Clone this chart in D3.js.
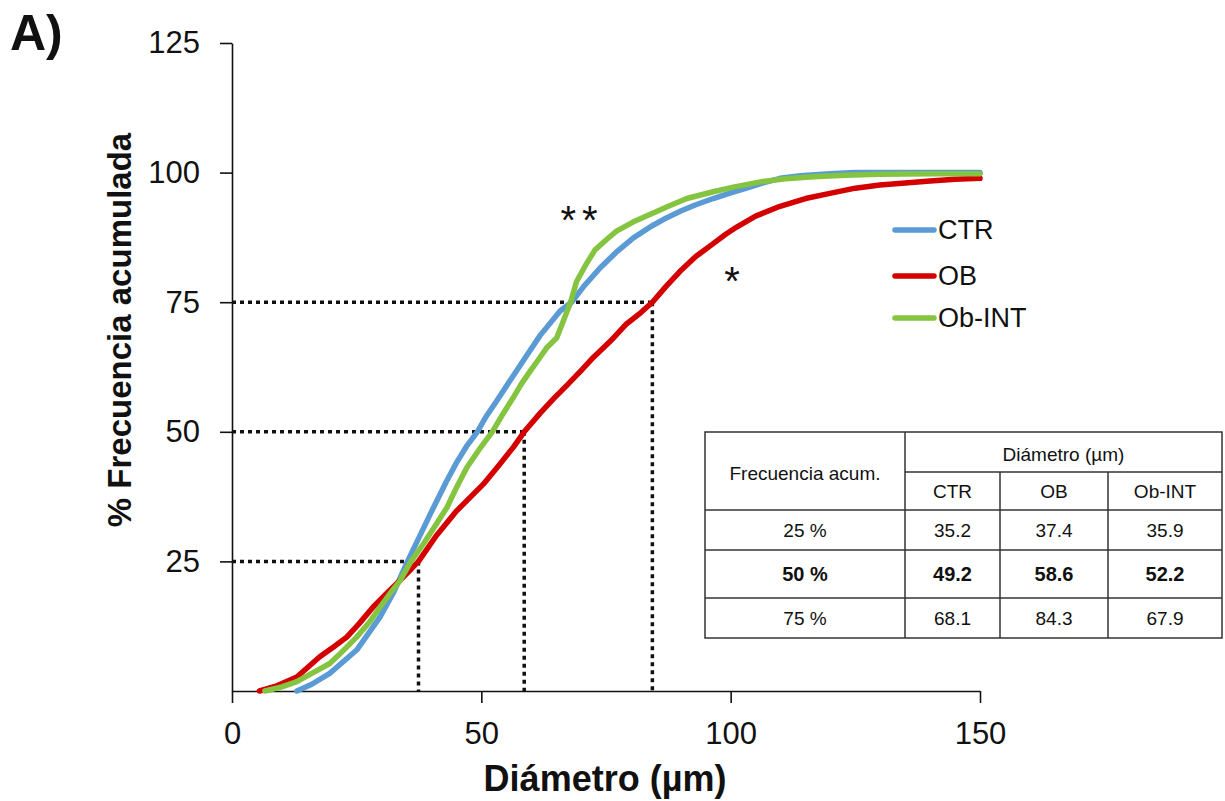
<!DOCTYPE html>
<html>
<head>
<meta charset="utf-8">
<script src="https://cdn.jsdelivr.net/npm/d3@7"></script>
<style>
  html, body { margin: 0; padding: 0; background: #fff; }
  svg { display: block; }
  text { font-family: "Liberation Sans", Arial, sans-serif; fill: #111; }
</style>
</head>
<body>
<svg id="chart" width="1225" height="801"></svg>
<script>
// Cumulative size distribution (diameter in µm vs. cumulative %)
const diamCTR = [13, 16, 19.6, 25, 29.7, 32.5, 35.2, 38, 40, 43, 45, 47.1, 49.2, 51, 53.1, 55.5, 58.4, 61.8, 65.8, 68.1, 70.5, 73.8, 77, 80.5, 84, 87.2, 90, 93, 96.5, 100, 103.2, 106.5, 109.9, 114, 119.9, 125, 130, 140, 150];
const freqCTR = [0, 1.3, 3.4, 7.9, 14.3, 19.2, 25, 30.6, 34.6, 40.4, 44, 47.3, 50, 53, 56, 59.5, 63.7, 68.6, 73.3, 75, 78, 81.6, 84.6, 87.4, 89.6, 91.3, 92.6, 93.8, 95, 96.1, 97, 98, 98.9, 99.4, 99.8, 100, 100, 100, 100];

const diamOB = [5.5, 9, 13, 17.6, 20.5, 23, 25.5, 28.3, 31, 33, 35.2, 37.4, 41, 45.1, 50.4, 53.5, 56.4, 58.6, 61.8, 64.5, 67.1, 70, 72.5, 76, 79.1, 82, 84.3, 87, 89.8, 93, 96.5, 99, 101.2, 105, 109.9, 115, 119.9, 125, 129.9, 135, 140, 145, 150];
const freqOB = [0, 1, 2.7, 6.6, 8.6, 10.4, 13, 16.2, 18.8, 20.7, 22.8, 25, 30, 34.8, 39.9, 43.5, 47, 50, 53.6, 56.4, 58.9, 61.8, 64.4, 67.6, 70.8, 73, 75, 78, 80.9, 83.8, 86.3, 88.1, 89.5, 91.6, 93.5, 95, 96, 97, 97.6, 98, 98.4, 98.7, 98.9];

const diamINT = [6.6, 10, 13, 16, 19.6, 22, 25, 27.5, 29.7, 32, 33.7, 35.9, 38.4, 40.5, 43.1, 45, 47.1, 49.5, 52.2, 54.3, 56.4, 58, 59.8, 61.5, 63.1, 65.1, 66.5, 67.9, 69.1, 71, 72.8, 75, 77.1, 80.5, 83.8, 87.5, 91.2, 96.5, 101, 106.5, 111, 116.6, 123, 129.9, 140, 150];
const freqINT = [0, 0.8, 1.8, 3.4, 5.3, 7.5, 10.4, 13.2, 16.2, 19.2, 21.3, 25, 28.4, 31.5, 35.4, 39.2, 43.1, 46.5, 50, 53.4, 56.6, 59.2, 61.7, 64, 66.2, 68.1, 71.5, 75, 79, 82.3, 85.1, 87, 88.7, 90.5, 91.9, 93.5, 95, 96.3, 97.3, 98.3, 98.8, 99.2, 99.5, 99.7, 99.8, 99.8];

const seriesNames = ["CTR", "OB", "Ob-INT"];
const seriesColors = ["#5b9bd5", "#d40000", "#84c441"];

const xTicks = [0, 50, 100, 150];
const yTicks = [25, 50, 75, 100, 125];

// Summary table: diameter at each cumulative frequency
const tableRows = ["25 %", "50 %", "75 %"];
const percentiles = [25, 50, 75];
const tabCTR = [35.2, 49.2, 68.1];
const tabOB = [37.4, 58.6, 84.3];
const tabINT = [35.9, 52.2, 67.9];

const svg = d3.select("#chart");

const x = d3.scaleLinear().domain([0, 150]).range([232, 980]);
const y = d3.scaleLinear().domain([0, 125]).range([691, 43]);

// Panel letter
svg.append("text").attr("x", 10).attr("y", 50)
  .attr("font-size", 50).attr("font-weight", "bold").text("A)");

// Axes
const yAxis = d3.axisLeft(y).tickValues(yTicks).tickSize(12).tickSizeOuter(0).tickPadding(20);
const xAxis = d3.axisBottom(x).tickValues(xTicks).tickSize(12).tickSizeOuter(0).tickPadding(19);

const gy = svg.append("g").attr("transform", `translate(${x(0)},0)`).call(yAxis);
const gx = svg.append("g").attr("transform", `translate(0,${y(0)})`).call(xAxis);
[gy, gx].forEach(g => {
  g.select(".domain").attr("stroke", "#111").attr("stroke-width", 1.6);
  g.selectAll(".tick line").attr("stroke", "#111").attr("stroke-width", 1.6);
  g.selectAll(".tick text").attr("font-size", 31).attr("fill", "#111")
    .attr("font-family", "Liberation Sans, Arial, sans-serif");
});

// Axis titles
svg.append("text")
  .attr("transform", `translate(131,330) rotate(-90)`)
  .attr("text-anchor", "middle").attr("font-size", 33).attr("font-weight", "bold")
  .text("% Frecuencia acumulada");
svg.append("text").attr("x", 605).attr("y", 791)
  .attr("text-anchor", "middle").attr("font-size", 36).attr("font-weight", "bold")
  .text("Diámetro (µm)");

// Dotted guides at the OB percentiles
const guides = svg.append("g");
percentiles.forEach((p, i) => {
  const d = tabOB[i];
  guides.append("line")
    .attr("x1", x(0)).attr("x2", x(d)).attr("y1", y(p)).attr("y2", y(p));
  guides.append("line")
    .attr("x1", x(d)).attr("x2", x(d)).attr("y1", y(p)).attr("y2", y(0));
});
guides.selectAll("line").attr("stroke", "#111").attr("stroke-width", 3.5)
  .attr("stroke-dasharray", "4,4");

// Curves
const series = [
  d3.zip(diamCTR, freqCTR),
  d3.zip(diamOB, freqOB),
  d3.zip(diamINT, freqINT)
];
const line = d3.line().x(d => x(d[0])).y(d => y(d[1]));
series.forEach((s, i) => {
  svg.append("path").datum(s)
    .attr("d", line)
    .attr("fill", "none")
    .attr("stroke", seriesColors[i])
    .attr("stroke-width", 5.5)
    .attr("stroke-linejoin", "round")
    .attr("stroke-linecap", "round");
});

// Significance marks
svg.append("text").attr("x", 582).attr("y", 234)
  .attr("text-anchor", "middle").attr("font-size", 40).attr("letter-spacing", 6)
  .text("**");
svg.append("text").attr("x", 732).attr("y", 295)
  .attr("text-anchor", "middle").attr("font-size", 40)
  .text("*");

// Legend
const legendY = [230, 276, 318];
const legend = svg.append("g");
seriesNames.forEach((name, i) => {
  legend.append("line")
    .attr("x1", 895).attr("x2", 934).attr("y1", legendY[i]).attr("y2", legendY[i])
    .attr("stroke", seriesColors[i]).attr("stroke-width", 5.5).attr("stroke-linecap", "round");
  legend.append("text").attr("x", 938).attr("y", legendY[i]).attr("dy", "0.35em")
    .attr("font-size", 27).text(name);
});

// Summary table
const colX = [705, 905, 1000, 1108, 1222];
const rowY = [432, 472, 510, 550, 598, 638];
const tbl = svg.append("g");
tbl.append("rect").attr("x", colX[0]).attr("y", rowY[0])
  .attr("width", colX[4] - colX[0]).attr("height", rowY[5] - rowY[0])
  .attr("fill", "#fff").attr("stroke", "#333").attr("stroke-width", 1.5);
const hl = (x1, x2, yy) => tbl.append("line").attr("x1", x1).attr("x2", x2).attr("y1", yy).attr("y2", yy);
const vl = (xx, y1, y2) => tbl.append("line").attr("x1", xx).attr("x2", xx).attr("y1", y1).attr("y2", y2);
hl(colX[1], colX[4], rowY[1]);
[2, 3, 4].forEach(r => hl(colX[0], colX[4], rowY[r]));
vl(colX[1], rowY[0], rowY[5]);
vl(colX[2], rowY[1], rowY[5]);
vl(colX[3], rowY[1], rowY[5]);
tbl.selectAll("line").attr("stroke", "#333").attr("stroke-width", 1.5);

const cell = (cx, cy, txt, bold) => tbl.append("text")
  .attr("x", cx).attr("y", cy).attr("dy", "0.35em").attr("text-anchor", "middle")
  .attr("font-size", bold ? 20 : 19).attr("font-weight", bold ? "bold" : "normal")
  .attr("fill", "#222").text(txt);

const mid = (a, b) => (a + b) / 2;
cell(mid(colX[0], colX[1]), 473, "Frecuencia acum.", false);
cell(mid(colX[1], colX[4]), 454, "Diámetro (µm)", false);
seriesNames.forEach((n, i) => cell(mid(colX[i + 1], colX[i + 2]), 491, n, false));
const tabCols = [tabCTR, tabOB, tabINT];
tableRows.forEach((r, j) => {
  const cy = mid(rowY[j + 2], rowY[j + 3]);
  const bold = percentiles[j] === 50;
  cell(mid(colX[0], colX[1]), cy, r, bold);
  tabCols.forEach((col, i) => cell(mid(colX[i + 1], colX[i + 2]), cy, col[j].toFixed(1), bold));
});
</script>
</body>
</html>
